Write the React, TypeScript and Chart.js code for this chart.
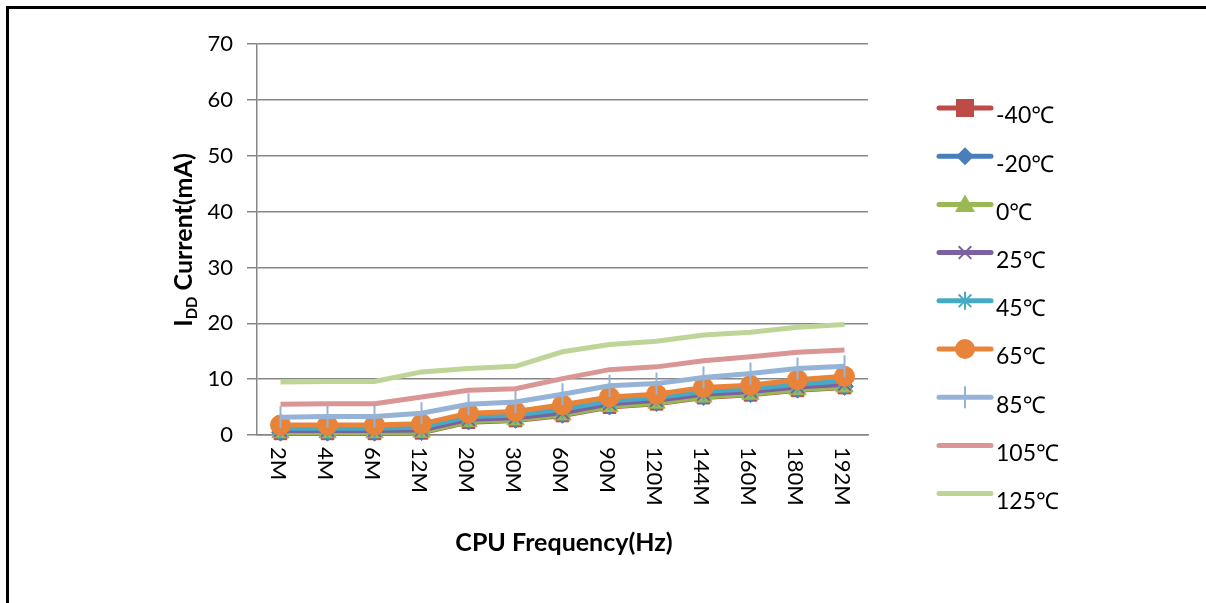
import React, { useEffect, useRef } from "react";
import { Chart, registerables } from "chart.js";

Chart.register(...registerables);

const categories = ["2M", "4M", "6M", "12M", "20M", "30M", "60M", "90M", "120M", "144M", "160M", "180M", "192M"];
const seriesNames = ["-40℃", "-20℃", "0℃", "25℃", "45℃", "65℃", "85℃", "105℃", "125℃"];

const tempM40 = [0.3, 0.3, 0.3, 0.4, 2.3, 2.6, 3.5, 5.0, 5.6, 6.7, 7.2, 8.0, 8.5];
const tempM20 = [0.5, 0.5, 0.5, 0.6, 2.5, 2.8, 3.7, 5.2, 5.8, 6.9, 7.4, 8.2, 8.7];
const temp0 = [0.4, 0.4, 0.4, 0.5, 2.4, 2.7, 3.6, 5.1, 5.7, 6.8, 7.3, 8.1, 8.6];
const temp25 = [0.8, 0.8, 0.8, 0.9, 2.8, 3.1, 4.0, 5.6, 6.2, 7.3, 7.8, 8.6, 9.1];
const temp45 = [1.2, 1.2, 1.2, 1.4, 3.3, 3.6, 4.6, 6.1, 6.7, 7.8, 8.3, 9.1, 9.7];
const temp65 = [1.8, 1.8, 1.8, 2.0, 3.9, 4.2, 5.4, 6.8, 7.3, 8.5, 8.9, 9.9, 10.5];
const temp85 = [3.2, 3.3, 3.3, 3.9, 5.5, 5.9, 7.3, 8.8, 9.2, 10.3, 11.0, 11.9, 12.3];
const temp105 = [5.5, 5.6, 5.6, 6.8, 8.0, 8.3, 10.1, 11.7, 12.2, 13.3, 14.0, 14.8, 15.2];
const temp125 = [9.5, 9.6, 9.6, 11.3, 11.9, 12.3, 14.9, 16.2, 16.8, 17.9, 18.4, 19.3, 19.8];

const yTicks = [0, 10, 20, 30, 40, 50, 60, 70];

const seriesValues = [tempM40, tempM20, temp0, temp25, temp45, temp65, temp85, temp105, temp125];
const seriesColors = ["#BE4B48", "#4A7EBB", "#98B954", "#7D60A0", "#46AAC5", "#E8833A", "#95B3D7", "#D99694", "#BFD598"];
const seriesMarkers: any[] = ["rect", "rectRot", "triangle", "crossRot", "star", "circle", "line", false, false];
const markerRadius = [9, 9, 10, 9, 9, 10, 11, 0, 0];
const markerRotation = [0, 0, 0, 0, 0, 0, 90, 0, 0];

const FONT = "Lato, 'Noto Sans', 'DejaVu Sans', sans-serif";

function drawMarker(ctx: CanvasRenderingContext2D, style: string, x: number, y: number, r: number, color: string) {
  ctx.save();
  ctx.fillStyle = color;
  ctx.strokeStyle = color;
  ctx.lineWidth = 2;
  ctx.beginPath();
  if (style === "rect") {
    ctx.fillRect(x - r, y - r, 2 * r, 2 * r);
  } else if (style === "rectRot") {
    ctx.moveTo(x, y - r); ctx.lineTo(x + r, y); ctx.lineTo(x, y + r); ctx.lineTo(x - r, y); ctx.closePath(); ctx.fill();
  } else if (style === "triangle") {
    ctx.moveTo(x, y - r); ctx.lineTo(x + r, y + r * 0.75); ctx.lineTo(x - r, y + r * 0.75); ctx.closePath(); ctx.fill();
  } else if (style === "crossRot") {
    ctx.moveTo(x - r * 0.7, y - r * 0.7); ctx.lineTo(x + r * 0.7, y + r * 0.7);
    ctx.moveTo(x + r * 0.7, y - r * 0.7); ctx.lineTo(x - r * 0.7, y + r * 0.7); ctx.stroke();
  } else if (style === "star") {
    ctx.moveTo(x - r * 0.7, y - r * 0.7); ctx.lineTo(x + r * 0.7, y + r * 0.7);
    ctx.moveTo(x + r * 0.7, y - r * 0.7); ctx.lineTo(x - r * 0.7, y + r * 0.7);
    ctx.moveTo(x, y - r); ctx.lineTo(x, y + r); ctx.stroke();
  } else if (style === "circle") {
    ctx.arc(x, y, r, 0, Math.PI * 2); ctx.fill();
  } else if (style === "line") {
    ctx.moveTo(x, y - r); ctx.lineTo(x, y + r); ctx.stroke();
  }
  ctx.restore();
}

const customDraw = {
  id: "customDraw",
  afterDraw(chart: any) {
    const ctx: CanvasRenderingContext2D = chart.ctx;
    const xScale = chart.scales.x;
    ctx.save();
    // frame
    ctx.fillStyle = "#000";
    ctx.fillRect(6, 6, 3, 603);
    ctx.fillRect(6, 6, 1206, 3);

    // x tick labels rotated clockwise
    ctx.fillStyle = "#000";
    ctx.font = `22px ${FONT}`;
    ctx.textAlign = "left";
    ctx.textBaseline = "middle";
    categories.forEach((c, i) => {
      const x = xScale.getPixelForTick(i);
      ctx.save();
      ctx.translate(x - 2, 447);
      ctx.rotate(Math.PI / 2);
      ctx.fillText(c, 0, 0);
      ctx.restore();
    });

    // x title
    ctx.font = `bold 25px ${FONT}`;
    ctx.textAlign = "center";
    ctx.textBaseline = "middle";
    ctx.fillText("CPU Frequency(Hz)", 564, 543);

    // y title with subscript
    ctx.save();
    ctx.translate(183, 240);
    ctx.rotate(-Math.PI / 2);
    ctx.textAlign = "left";
    ctx.textBaseline = "alphabetic";
    const big = `bold 25px ${FONT}`;
    const small = `bold 15px ${FONT}`;
    ctx.font = big;
    const wI = ctx.measureText("I").width;
    const wRest = ctx.measureText(" Current(mA)").width;
    ctx.font = small;
    const wDD = ctx.measureText("DD").width;
    const total = wI + wDD + wRest;
    let px = -total / 2;
    ctx.font = big;
    ctx.fillText("I", px, 9);
    px += wI;
    ctx.font = small;
    ctx.fillText("DD", px, 14);
    px += wDD;
    ctx.font = big;
    ctx.fillText(" Current(mA)", px, 9);
    ctx.restore();

    // legend
    ctx.font = `23px ${FONT}`;
    ctx.textAlign = "left";
    ctx.textBaseline = "middle";
    seriesNames.forEach((name, i) => {
      const y = 108 + i * 48.2;
      const color = seriesColors[i];
      ctx.save();
      ctx.strokeStyle = color;
      ctx.lineWidth = 5;
      ctx.lineCap = "round";
      ctx.beginPath();
      ctx.moveTo(939, y);
      ctx.lineTo(991, y);
      ctx.stroke();
      ctx.restore();
      if (seriesMarkers[i]) {
        drawMarker(ctx, seriesMarkers[i], 965, y, markerRadius[i], color);
      }
      ctx.fillStyle = "#000";
      ctx.fillText(name, 996, y + 8);
    });
    ctx.restore();
  },
};

export default function App() {
  const ref = useRef<HTMLCanvasElement>(null);
  useEffect(() => {
    if (!ref.current) return;
    const datasets = seriesNames.map((name, i) => ({
      label: name,
      data: seriesValues[i],
      borderColor: seriesColors[i],
      backgroundColor: seriesColors[i],
      borderWidth: 5,
      pointStyle: seriesMarkers[i],
      pointRadius: markerRadius[i],
      pointRotation: markerRotation[i],
      pointBorderWidth: i === 3 || i === 4 || i === 6 ? 2 : 1,
      pointBorderColor: seriesColors[i],
      pointBackgroundColor: seriesColors[i],
      tension: 0,
      clip: false,
      order: seriesNames.length - i,
    }));
    const chart = new Chart(ref.current, {
      type: "line",
      data: { labels: categories, datasets },
      plugins: [customDraw],
      options: {
        animation: false,
        responsive: false,
        devicePixelRatio: 1,
        layout: { padding: { left: 0, top: 44, right: 338, bottom: 0 } },
        plugins: { legend: { display: false }, tooltip: { enabled: false } },
        scales: {
          x: {
            offset: true,
            grid: { display: false },
            border: { display: true, color: "#868686", width: 1.5 },
            ticks: { display: false },
            afterFit: (s: any) => { s.height = 168; },
          },
          y: {
            min: 0,
            max: 70,
            afterBuildTicks: (s: any) => { s.ticks = yTicks.map((v) => ({ value: v })); },
            grid: { color: "#868686", lineWidth: 1.5, tickLength: 10, drawTicks: true },
            border: { display: true, color: "#868686", width: 1.5 },
            ticks: { color: "#000", font: { family: FONT, size: 22 }, padding: 14 },
            afterFit: (s: any) => { s.width = 257; },
          },
        },
      },
    });
    return () => chart.destroy();
  }, []);
  return (
    <div style={{ position: "absolute", left: 0, top: 0, width: 1206, height: 603, background: "#fff" }}>
      <canvas ref={ref} width={1206} height={603} style={{ width: 1206, height: 603, display: "block" }} />
    </div>
  );
}
